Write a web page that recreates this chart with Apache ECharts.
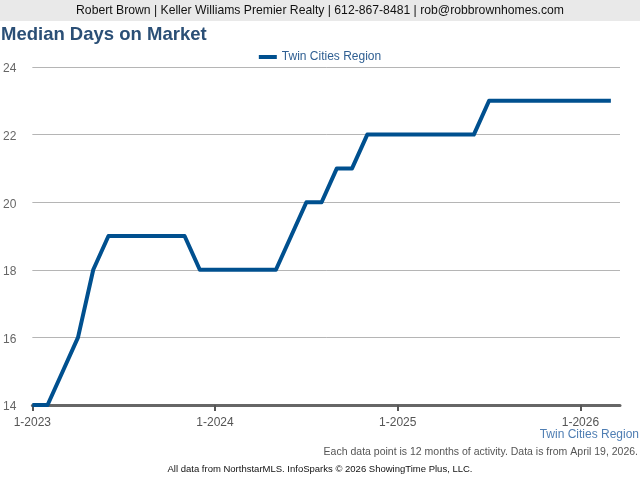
<!DOCTYPE html>
<html><head><meta charset="utf-8">
<script src="https://cdn.jsdelivr.net/npm/echarts@6/dist/echarts.min.js"></script>
<style>html,body{margin:0;padding:0;background:#fff}#c{width:640px;height:480px}</style>
</head><body><div id="c"></div>
<script>
const months = ['1-2023','2-2023','3-2023','4-2023','5-2023','6-2023','7-2023','8-2023','9-2023','10-2023','11-2023','12-2023',
'1-2024','2-2024','3-2024','4-2024','5-2024','6-2024','7-2024','8-2024','9-2024','10-2024','11-2024','12-2024',
'1-2025','2-2025','3-2025','4-2025','5-2025','6-2025','7-2025','8-2025','9-2025','10-2025','11-2025','12-2025',
'1-2026','2-2026','3-2026'];
const twinCities = [14,14,15,16,18,19,19,19,19,19,19,18,
18,18,18,18,18,19,20,20,21,21,22,22,
22,22,22,22,22,22,23,23,23,23,23,23,
23,23,23];
const yTicks = [14,16,18,20,22,24];
const seriesName = 'Twin Cities Region';

const chart = echarts.init(document.getElementById('c'));
const font = 'Liberation Sans, Arial, sans-serif';
chart.setOption({
  animation:false,
  graphic:[
    {type:'rect',shape:{x:0,y:0,width:640,height:21},style:{fill:'#e9e9e9'}},
    {type:'text',x:320,y:11,style:{text:'Robert Brown | Keller Williams Premier Realty | 612-867-8481 | rob@robbrownhomes.com',font:'12.2px '+font,fill:'#111',textAlign:'center',textVerticalAlign:'middle'}},
    {type:'text',x:1,y:35,style:{text:'Median Days on Market',font:'bold 18.5px '+font,fill:'#2b4f76',textAlign:'left',textVerticalAlign:'middle'}},
    {type:'text',x:639,y:435,style:{text:'Twin Cities Region',font:'12px '+font,fill:'#4f7eb3',textAlign:'right',textVerticalAlign:'middle'}},
    {type:'text',x:638,y:452,style:{text:'Each data point is 12 months of activity. Data is from April 19, 2026.',font:'10.5px '+font,fill:'#555',textAlign:'right',textVerticalAlign:'middle'}},
    {type:'text',x:320,y:469,style:{text:'All data from NorthstarMLS. InfoSparks © 2026 ShowingTime Plus, LLC.',font:'9.5px '+font,fill:'#111',textAlign:'center',textVerticalAlign:'middle'}}
  ],
  legend:{top:46,left:'center',icon:'rect',itemWidth:18,itemHeight:4,itemGap:6,
    textStyle:{color:'#2f5f92',fontSize:12,fontFamily:font},data:[seriesName]},
  grid:{left:31,right:20,top:67,bottom:75,containLabel:false},
  xAxis:{type:'value',min:0,max:38.6,interval:12,
    axisLine:{show:true,lineStyle:{color:'#666',width:3}},
    axisTick:{show:true,inside:false,length:6,lineStyle:{color:'#555',width:2}},
    splitLine:{show:false},
    axisLabel:{color:'#555',fontSize:12,fontFamily:font,margin:12,showMaxLabel:false,
      formatter:function(v){ return (v%12===0)? months[v] : ''; }}
  },
  yAxis:{type:'value',min:yTicks[0],max:yTicks[yTicks.length-1],interval:2,
    axisLine:{show:false},axisTick:{show:false},
    splitLine:{lineStyle:{color:'#b5b5b5',width:1}},
    axisLabel:{color:'#666',fontSize:12,fontFamily:font,margin:16,verticalAlign:'top',padding:[-4,0,0,0]}
  },
  series:[{name:seriesName,type:'line',symbol:'none',
    data:twinCities.map((v,i)=>[i,v]),
    lineStyle:{color:'#00508f',width:4,join:'round'},itemStyle:{color:'#00508f'}}]
});
</script></body></html>
